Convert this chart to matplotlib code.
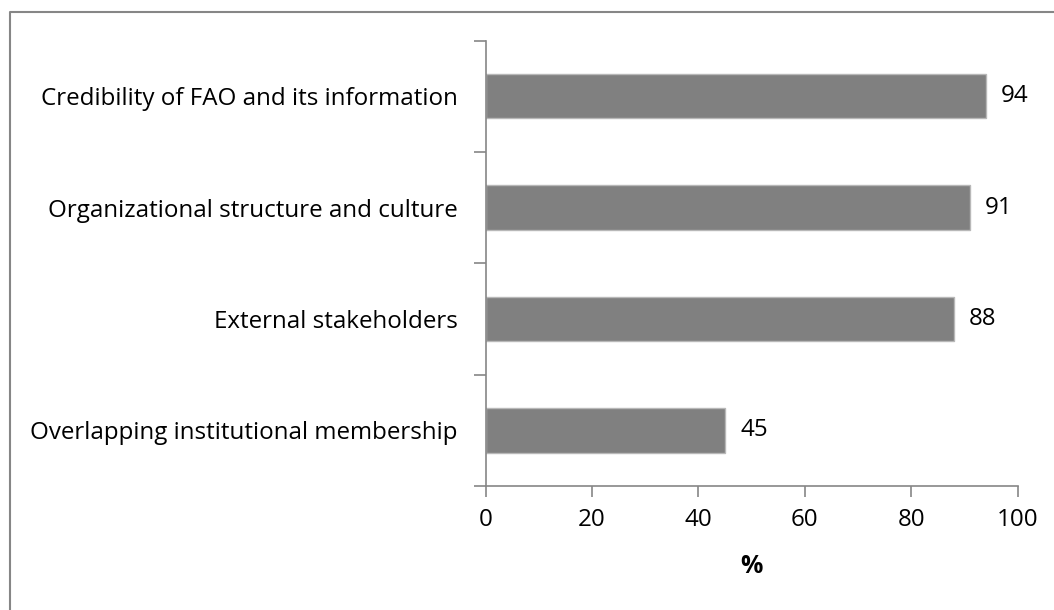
import matplotlib
matplotlib.use('Agg')
import matplotlib.pyplot as plt
from matplotlib.lines import Line2D

# Data
categories = ['Overlapping institutional membership', 'External stakeholders',
              'Organizational structure and culture', 'Credibility of FAO and its information']
values = [45, 88, 91, 94]
xticks = [0, 20, 40, 60, 80, 100]

plt.rcParams['font.family'] = ['Open Sans', 'DejaVu Sans']

W, H = 1054, 610
fs = 17.4
fig = plt.figure(figsize=(W / 100, H / 100), dpi=100)
ax = fig.add_axes([485.7 / W, 1 - 486 / H, (1017.5 - 485.7) / W, (486 - 40.5) / H])

spine_col = '#868686'
pos = range(len(categories))
ax.barh(pos, values, height=0.4, color='#808080', edgecolor='#b8b8b8', linewidth=1)

for p, v in zip(pos, values):
    ax.annotate(f'{v}', (v, p), xytext=(15, 0), textcoords='offset pixels',
                va='center', ha='left', fontsize=fs)

ax.set_xlim(0, 100)
ax.set_ylim(-0.5, len(categories) - 0.5)
ax.set_xticks(xticks)
ax.set_xticklabels([str(t) for t in xticks], fontsize=fs)
ax.set_yticks(list(pos))
ax.set_yticklabels(categories, fontsize=fs)
ax.set_yticks([i - 0.5 for i in range(len(categories) + 1)], minor=True)
ax.tick_params(axis='y', which='major', length=0, pad=20)
ax.tick_params(axis='y', which='minor', length=9, width=1.2, color=spine_col, direction='out')
ax.tick_params(axis='x', length=8, width=1.2, color=spine_col, direction='out', pad=8)

for s in ['top', 'right']:
    ax.spines[s].set_visible(False)
for s in ['left', 'bottom']:
    ax.spines[s].set_color(spine_col)
    ax.spines[s].set_linewidth(1.2)

ax.set_xlabel('%', fontsize=fs + 0.5, fontweight='bold', labelpad=16)

# outer chart border (top and left visible)
fig.add_artist(Line2D([9.5 / W, 9.5 / W, 1.01], [-0.01, 1 - 11.5 / H, 1 - 11.5 / H],
                      transform=fig.transFigure, color='#868686', linewidth=1.5))

fig.savefig('out.png', dpi=100)
